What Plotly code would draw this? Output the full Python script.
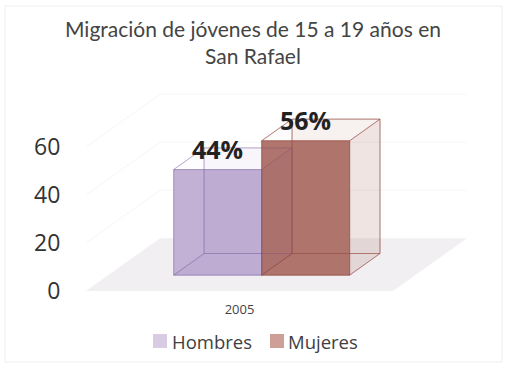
import plotly.graph_objects as go

categories = ["2005"]
series_names = ["Hombres", "Mujeres"]
hombres = [44]
mujeres = [56]
y_ticks = [0, 20, 40, 60]
title_text = "Migración de jóvenes de 15 a 19 años en<br>San Rafael"

# oblique projection of the fake-3D scene, in axis units
DX, DY = 0.241, 22.0
D0, D1 = 0.30, 0.71
BAR_W = 0.2866
CX = 0.5
# plot area in pixels
L, R, T, B = 86, 467, 87, 291


def proj(x, v, d):
    return x + d * DX, v + d * DY


def poly(pts):
    xs, ys = zip(*[proj(*p) for p in pts])
    return list(xs) + [xs[0]], list(ys) + [ys[0]]


def px(x):
    return (x - L) / (R - L)


def py(y):
    return (B - y) / (B - T)


fig = go.Figure()

shapes = []
annotations = []
# floor
fx, fy = poly([(0, 0, 0), (1, 0, 0), (1, 0, 1), (0, 0, 1)])
path = "M" + " L".join(f"{a},{b}" for a, b in zip(fx[:-1], fy[:-1])) + " Z"
shapes.append(dict(type="path", path=path, xref="x", yref="y", layer="below",
                   fillcolor="#f1eff2", line=dict(width=0)))
# grid lines on the back and left walls
for t in y_ticks[1:]:
    xs = [proj(0, t, 0), proj(0, t, 1), proj(1, t, 1)]
    path = "M" + " L".join(f"{a},{b}" for a, b in xs)
    shapes.append(dict(type="path", path=path, xref="x", yref="y", layer="below",
                       line=dict(color="#f5f5f6", width=1)))
# outer frame
shapes.append(dict(type="rect", xref="paper", yref="paper",
                   x0=px(5), x1=px(502), y0=py(362), y1=py(6),
                   layer="below", line=dict(color="#eeeeee", width=1)))

styles = [
    dict(name=series_names[0], vals=hombres, x0=CX - BAR_W, legend="#d9cbe4",
         tint="110,80,160", line="rgba(125,95,155,0.32)", side=0.05, front=0.2,
         swatch=(153, 167), text_x=172),
    dict(name=series_names[1], vals=mujeres, x0=CX, legend="#cd9f97",
         tint="150,80,70", line="rgba(150,80,70,0.45)", side=0.08, front=0.50,
         swatch=(270, 284), text_x=288),
]

for s in styles:
    v = s["vals"][0]
    bx, _ = proj(s["x0"], 0, D0)
    fig.add_trace(go.Bar(x=[bx], y=[v], base=[D0 * DY], width=[BAR_W], offset=0,
                         name=s["name"], marker=dict(color=s["legend"], line=dict(width=0)),
                         hoverinfo="skip", showlegend=False))

for s in styles:
    v = s["vals"][0]
    x0, x1 = s["x0"], s["x0"] + BAR_W
    faces = [
        ([(x0, 0, D1), (x1, 0, D1), (x1, v, D1), (x0, v, D1)], s["side"]),  # back
        ([(x0, 0, D0), (x0, 0, D1), (x0, v, D1), (x0, v, D0)], s["side"] * 0.2),  # left
        ([(x0, 0, D0), (x1, 0, D0), (x1, 0, D1), (x0, 0, D1)], s["side"]),  # bottom
        ([(x1, 0, D0), (x1, 0, D1), (x1, v, D1), (x1, v, D0)], s["side"]),  # right
        ([(x0, v, D0), (x1, v, D0), (x1, v, D1), (x0, v, D1)], 0.0),  # top
        ([(x0, 0, D0), (x1, 0, D0), (x1, v, D0), (x0, v, D0)], s["front"]),  # front
    ]
    for pts, a in faces:
        xs, ys = poly(pts)
        fig.add_trace(go.Scatter(x=xs, y=ys, mode="lines", fill="toself",
                                 fillcolor=f"rgba({s['tint']},{a})",
                                 line=dict(color=s["line"], width=1),
                                 showlegend=False, hoverinfo="skip"))

    # value label
    lx, ly = proj(s["x0"] + BAR_W / 2, v, D0)
    annotations.append(dict(x=lx, y=ly, xref="x", yref="y", text=f"<b>{v}%</b>", showarrow=False,
                            xanchor="center", yanchor="bottom", yshift=2,
                            font=dict(family="Open Sans", size=25, color="#222222")))
    # legend entry
    shapes.append(dict(type="rect", xref="paper", yref="paper",
                       x0=px(s["swatch"][0]), x1=px(s["swatch"][1]),
                       y0=py(348), y1=py(334), fillcolor=s["legend"], line=dict(width=0)))
    annotations.append(dict(x=px(s["text_x"]), y=py(341), xref="paper", yref="paper",
                            text=s["name"], showarrow=False, xanchor="left", yanchor="middle",
                            xshift=-2,
                            font=dict(family="Open Sans", size=18.5, color="#404040")))

fig.update_layout(
    width=510, height=370, autosize=False,
    margin=dict(l=L, r=510 - R, t=T, b=370 - B),
    paper_bgcolor="white", plot_bgcolor="rgba(0,0,0,0)",
    barmode="overlay", shapes=shapes, annotations=annotations, showlegend=False,
    title=dict(text=title_text, x=253 / 510, xanchor="center", y=0.90, yanchor="top",
               font=dict(family="Lato", size=21, color="#444444")),
    xaxis=dict(range=[0, 381 / 307], tickvals=[CX], ticktext=categories, showgrid=False,
               zeroline=False, showline=False, ticks="outside", ticklen=6,
               tickcolor="rgba(0,0,0,0)", tickfont=dict(family="Open Sans", size=13, color="#444444")),
    yaxis=dict(range=[0, 85], tickvals=y_ticks, showgrid=False, zeroline=False, showline=False,
               ticks="outside", ticklen=20, tickcolor="rgba(0,0,0,0)",
               tickfont=dict(family="Open Sans", size=23, color="#333333")),
)

fig.write_html("out.html", config={"displayModeBar": False},
               post_script="document.body.style.margin='0';")
